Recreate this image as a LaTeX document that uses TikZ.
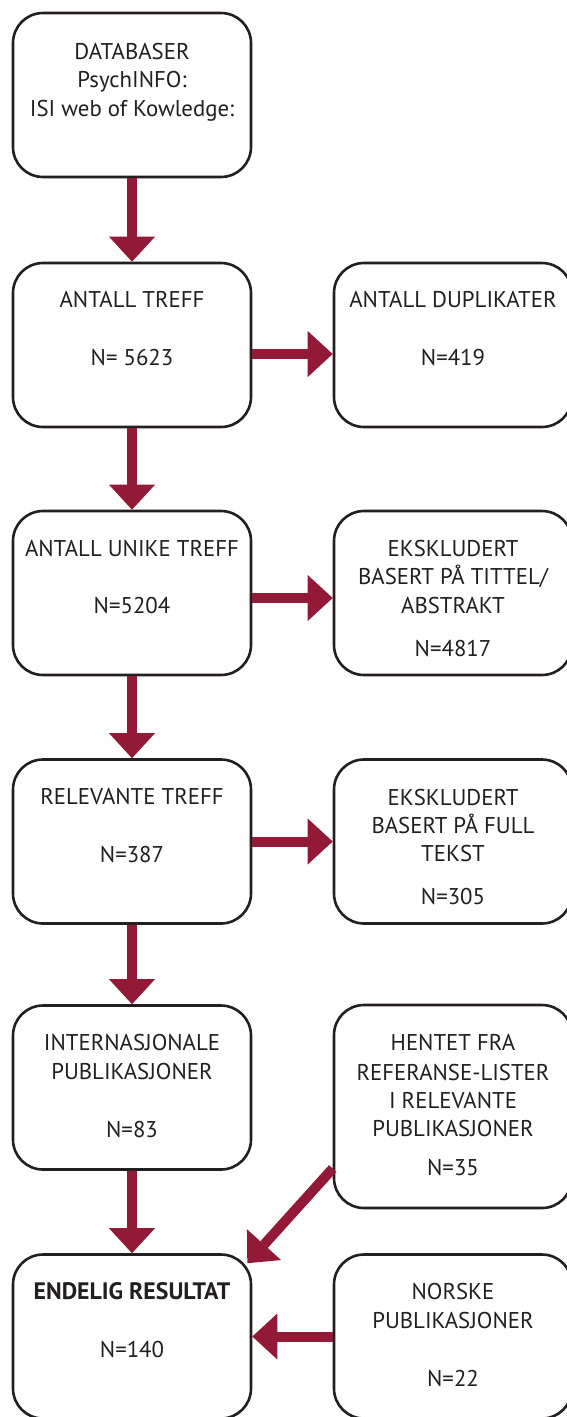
\documentclass[tikz,border=0pt]{standalone}
\usepackage{fontspec}
\setmainfont{PT Sans}
\usetikzlibrary{arrows.meta,calc}
\definecolor{arrowred}{HTML}{921A36}
\definecolor{ink}{HTML}{231F20}
\newcommand{\txtfont}{\fontsize{22.8}{28}\selectfont}
\newcommand{\boldtxtfont}{\fontsize{23.8}{28}\selectfont\bfseries}
\tikzset{
  box/.style={draw=ink, line width=2.6pt, rounded corners=30pt, minimum width=238pt, minimum height=164pt, inner sep=0pt, fill=white},
  tallbox/.style={box, minimum height=203pt},
  txt/.style={font=\txtfont, text=ink, inner sep=0pt, anchor=base},
  arr/.style={line width=10pt, draw=arrowred, -{Triangle[width=46pt,length=25pt,line width=0pt]}}
}
\begin{document}
\begin{tikzpicture}[x=1pt,y=-1pt]
\useasboundingbox (0,0) rectangle (567,1417);
\clip (0,0) rectangle (567,1417);
\fill[white] (0,0) rectangle (567,1417);
% boxes
\node[box] (b1) at (132,95) {};
\node[box] (b2) at (132,345) {};
\node[box] (r2) at (453,345) {};
\node[box] (b3) at (132,593) {};
\node[box] (r3) at (453,593) {};
\node[box] (b4) at (132,841.5) {};
\node[box] (r4) at (453,841.5) {};
\node[box] (b5) at (132,1087.5) {};
\node[tallbox] (r5) at (453,1106.5) {};
\node[box] (b6) at (132,1336.5) {};
\node[box] (r6) at (453,1336.5) {};
% texts
\node[txt] (t1a) at (132,59) {DATABASER};
\node[txt] (t1b) at (132,87.5) {PsychINFO:};
\node[txt] (t1c) at (132,116) {ISI web of Kowledge:};
\node[txt] (t2a) at (132,307) {ANTALL TREFF};
\node[txt] (t2b) at (132,365) {N= 5623};
\node[txt] (s2a) at (453,307) {ANTALL DUPLIKATER};
\node[txt] (s2b) at (453,365) {N=419};
\node[txt] (t3a) at (132,556) {ANTALL UNIKE TREFF};
\node[txt] (t3b) at (132,613) {N=5204};
\node[txt] (s3a) at (453,556) {EKSKLUDERT};
\node[txt] (s3b) at (453,584.5) {BASERT PÅ TITTEL/};
\node[txt] (s3c) at (453,613) {ABSTRAKT};
\node[txt] (s3d) at (453,656) {N=4817};
\node[txt] (t4a) at (132,804) {RELEVANTE TREFF};
\node[txt] (t4b) at (132,862) {N=387};
\node[txt] (s4a) at (453,805) {EKSKLUDERT};
\node[txt] (s4b) at (453,833) {BASERT PÅ FULL};
\node[txt] (s4c) at (453,861) {TEKST};
\node[txt] (s4d) at (453,904) {N=305};
\node[txt] (t5a) at (132,1050) {INTERNASJONALE};
\node[txt] (t5b) at (132,1079) {PUBLIKASJONER};
\node[txt] (t5c) at (132,1137) {N=83};
\node[txt] (s5a) at (453,1050) {HENTET FRA};
\node[txt] (s5b) at (453,1080) {REFERANSE-LISTER};
\node[txt] (s5c) at (453,1108) {I RELEVANTE};
\node[txt] (s5d) at (453,1136) {PUBLIKASJONER};
\node[txt] (s5e) at (453,1175) {N=35};
\node[txt,font=\boldtxtfont] (t6a) at (132,1299) {ENDELIG RESULTAT};
\node[txt] (t6b) at (132,1357) {N=140};
\node[txt] (s6a) at (453,1299) {NORSKE};
\node[txt] (s6b) at (453,1328) {PUBLIKASJONER};
\node[txt] (s6c) at (453,1386) {N=22};
% arrows
\draw[arr] (b1.south) -- (b2.north);
\draw[arr] (b2.south) -- (b3.north);
\draw[arr] (b3.south) -- (b4.north);
\draw[arr] (b4.south) -- (b5.north);
\draw[arr] (b5.south) -- (b6.north);
\draw[arr] ($(b2.east)+(0,9)$) -- ($(r2.west)+(0,9)$);
\draw[arr] ($(b3.east)+(0,5)$) -- ($(r3.west)+(0,5)$);
\draw[arr] (b4.east) -- (r4.west);
\draw[arr] ($(r5.west)+(0,62)$) -- ($(b6.north east)+(-5,10)$);
\draw[arr] (r6.west) -- (b6.east);
\end{tikzpicture}
\end{document}
